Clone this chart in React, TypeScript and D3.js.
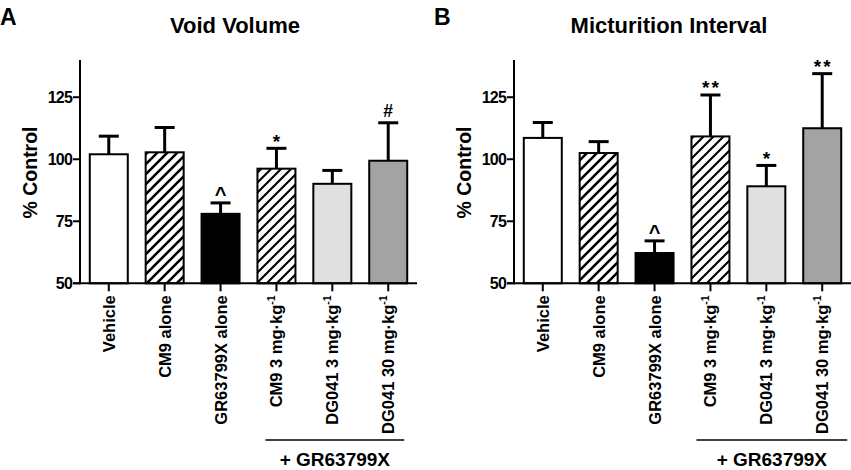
import React from "react";
import * as d3 from "d3";

const categories = ["Vehicle", "CM9 alone", "GR63799X alone", "CM9 3 mg·kg", "DG041 3 mg·kg", "DG041 30 mg·kg"];
const superscripts = ["", "", "", "-1", "-1", "-1"];
const fills = ["white", "url(#hatchA)", "black", "url(#hatchB)", "#e0e0e0", "#a3a3a3"];

const voidMeans = [102, 102.8, 78, 96.2, 90.1, 99.4];
const voidErrTop = [109.3, 112.8, 82.4, 104.4, 95.5, 114.7];
const voidMarks = ["", "", "^", "*", "", "#"];

const mictMeans = [108.6, 102.5, 62.2, 109.2, 89.1, 112.5];
const mictErrTop = [114.8, 107.1, 67.1, 125.9, 97.5, 134.5];
const mictMarks = ["", "", "^", "**", "*", "**"];

const yTicks = [50, 75, 100, 125];
const yDomain: [number, number] = [50, 140];

const FONT = "'Liberation Sans', Arial, sans-serif";

type PanelProps = {
  x0: number;
  letter: string;
  title: string;
  means: number[];
  errTop: number[];
  marks: string[];
  groupLine: [number, number];
};

function Panel({ x0, letter, title, means, errTop, marks, groupLine }: PanelProps) {
  const axisX = x0 + 80;
  const axisEnd = x0 + 417;
  const y = d3.scaleLinear().domain(yDomain).range([283.3, 60]);
  const x = d3
    .scaleBand<string>()
    .domain(categories)
    .range([axisX, axisEnd])
    .paddingInner(0.32)
    .paddingOuter(0.175);
  const bw = x.bandwidth();
  const base = y(50);
  const titleX = x0 + 235;
  const g0 = x(categories[3])! + groupLine[0];
  const g1 = x(categories[5])! + bw + groupLine[1];
  return (
    <g fontFamily={FONT} fontWeight="bold">
      <text x={x0 + 0} y={25} fontSize={23}>{letter}</text>
      <text x={titleX} y={33} fontSize={22} textAnchor="middle">{title}</text>
      <text transform={`translate(${x0 + 36.5},${172.5}) rotate(-90)`} fontSize={19.5} textAnchor="middle">% Control</text>
      {categories.map((c, i) => {
        const bx = x(c)!;
        const cx = bx + bw / 2;
        const top = y(means[i]);
        const et = y(errTop[i]);
        const m = marks[i];
        let markEl = null;
        if (m === "^") {
          markEl = <text x={cx} y={et - 2} fontSize={20} textAnchor="middle">^</text>;
        } else if (m === "#") {
          markEl = <text x={cx} y={et - 6} fontSize={17.5} textAnchor="middle">#</text>;
        } else if (m) {
          markEl = (
            <text x={cx + (m.length > 1 ? 1 : 0)} y={et - 0.5} fontSize={19} textAnchor="middle" letterSpacing={m.length > 1 ? 2 : 0}>
              {m}
            </text>
          );
        }
        return (
          <g key={c}>
            <line x1={cx} x2={cx} y1={top} y2={et} stroke="black" strokeWidth={3} />
            <line x1={cx - bw / 4 - 0.5} x2={cx + bw / 4 + 0.5} y1={et} y2={et} stroke="black" strokeWidth={3} />
            <rect x={bx} y={top} width={bw} height={base - top} fill={fills[i]} stroke="black" strokeWidth={2} />
            {markEl}
            <line x1={cx} x2={cx} y1={base} y2={base + 8} stroke="black" strokeWidth={2} />
            <text
              transform={`translate(${cx + 6},${base + 12}) rotate(-90)`}
              fontSize={16.5}
              textAnchor="end"
            >
              {c}
              {superscripts[i] && (
                <tspan fontSize={10.5} dy={-7.5}>{superscripts[i]}</tspan>
              )}
            </text>
          </g>
        );
      })}
      <line x1={axisX} x2={axisX} y1={y(140)} y2={base + 1} stroke="black" strokeWidth={2} />
      <line x1={axisX - 7} x2={axisEnd} y1={base} y2={base} stroke="black" strokeWidth={2} />
      {yTicks.map((t) => (
        <g key={t}>
          <line x1={axisX - 7} x2={axisX} y1={y(t)} y2={y(t)} stroke="black" strokeWidth={2} />
          <text x={axisX - 8} y={y(t)} dy="0.36em" fontSize={16} textAnchor="end" letterSpacing={-0.8}>{t}</text>
        </g>
      ))}
      <line x1={g0} x2={g1} y1={440} y2={440} stroke="black" strokeWidth={1.5} />
      <text x={(g0 + g1) / 2} y={466} fontSize={19} textAnchor="middle">+ GR63799X</text>
    </g>
  );
}

export default function App() {
  return (
    <svg
      width={851}
      height={470}
      style={{ position: "absolute", left: 0, top: 0, background: "white" }}
    >
      <defs>
        <pattern id="hatchA" patternUnits="userSpaceOnUse" width={10} height={10}>
          <rect width={10} height={10} fill="white" />
          <path d="M-1,1 l2,-2 M0,10 l10,-10 M9,11 l2,-2" stroke="black" strokeWidth={2.6} />
        </pattern>
        <pattern id="hatchB" patternUnits="userSpaceOnUse" width={10} height={10}>
          <rect width={10} height={10} fill="white" />
          <path d="M-1,1 l2,-2 M0,10 l10,-10 M9,11 l2,-2" stroke="black" strokeWidth={2.1} />
        </pattern>
      </defs>
      <rect width={851} height={470} fill="white" />
      <Panel
        x0={0}
        letter="A"
        title="Void Volume"
        means={voidMeans}
        errTop={voidErrTop}
        marks={voidMarks}
        groupLine={[8, -3]}
      />
      <Panel
        x0={434}
        letter="B"
        title="Micturition Interval"
        means={mictMeans}
        errTop={mictErrTop}
        marks={mictMarks}
        groupLine={[5, 6]}
      />
    </svg>
  );
}
